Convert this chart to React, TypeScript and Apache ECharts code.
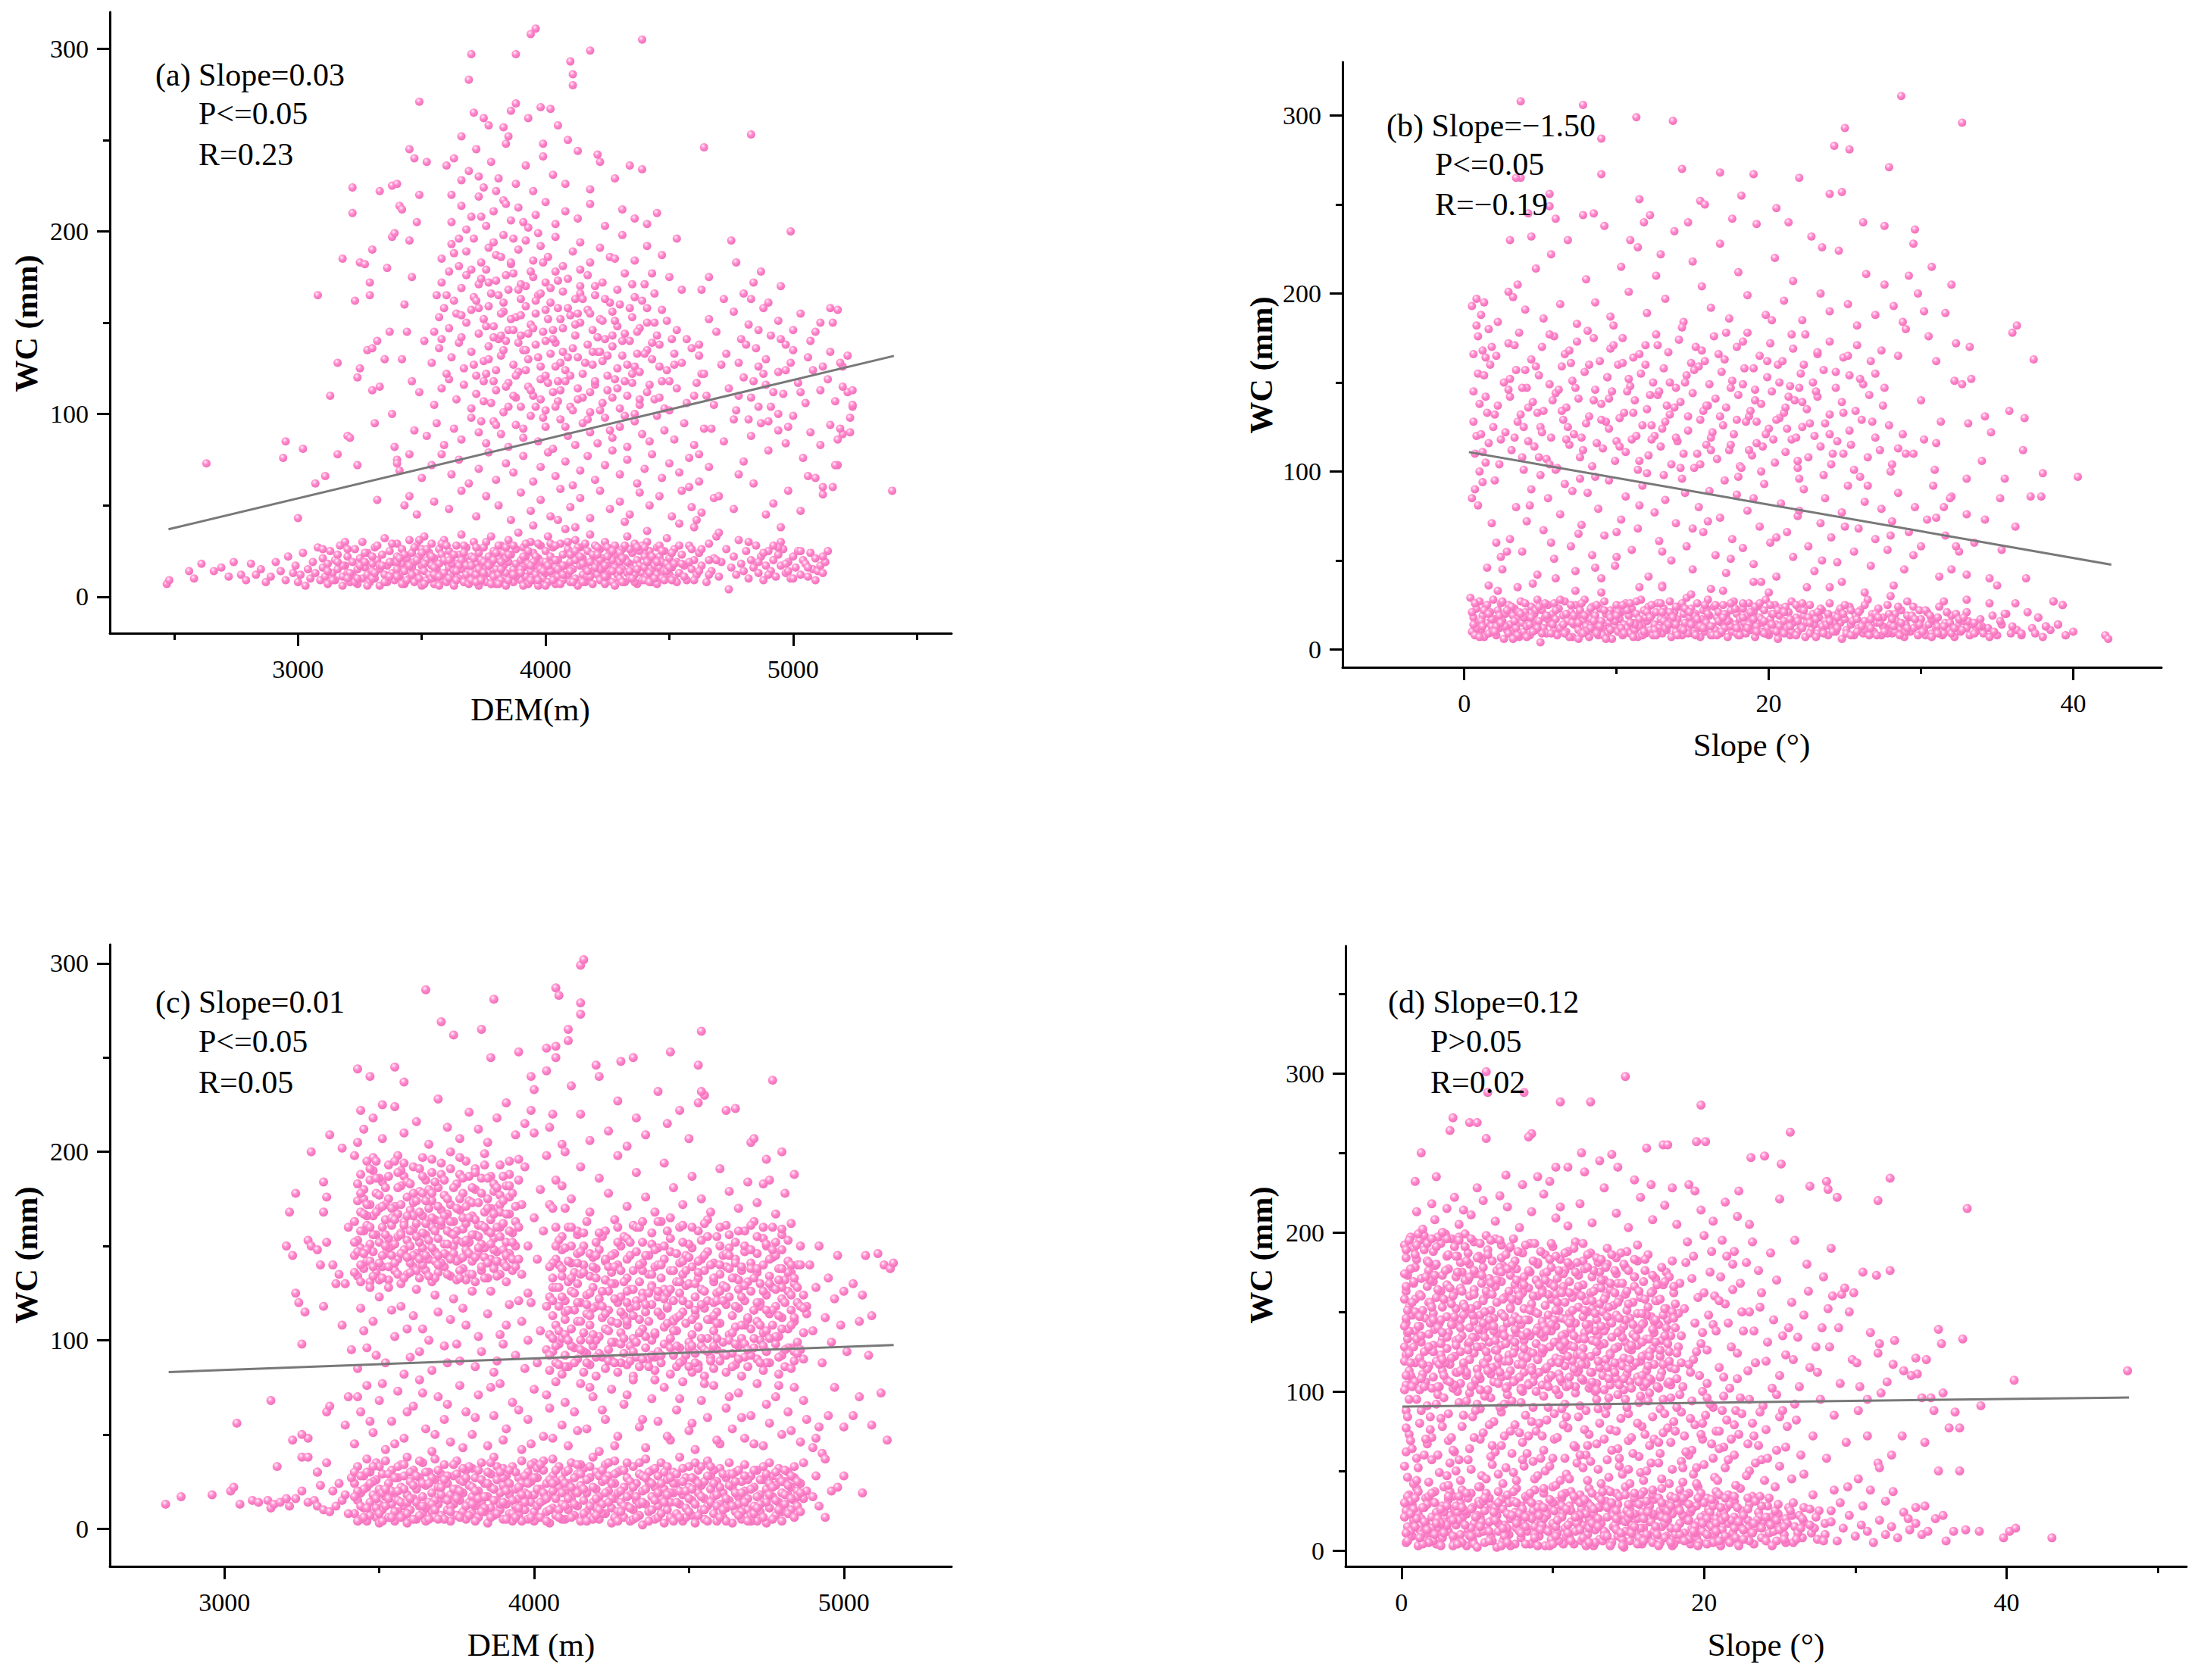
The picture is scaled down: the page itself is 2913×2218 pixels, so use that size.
import React, { useEffect, useRef } from "react";
import * as echarts from "echarts";

// ---------- Panel (a): DEM (in units of 10 m) vs WC (mm) ----------
const A_BAND = [
247,7,248,9,256,14,258,10,261,18,266,14,269,16,272,11,274,19,277,12,279,9,281,18,283,12,285,15,287,8,289,11,291,19,293,14,295,9,296,22,298,13,299,17,
300,8,301,12,302,24,303,6,304,15,305,10,306,19,307,13,308,27,309,9,310,16,310,21,
311,11,312,7,312,18,313,25,314,13,315,9,315,20,316,15,317,28,318,11,318,6,319,17,320,22,320,13,
321,8,322,19,322,12,323,26,324,15,324,7,325,21,326,10,326,30,327,16,328,12,328,24,329,8,330,18,330,14,
331,27,331,10,332,20,333,6,333,15,334,23,335,12,335,32,336,17,336,8,337,25,338,13,338,19,339,9,340,22,340,15,340,29,
341,11,342,18,342,26,343,7,343,14,344,21,345,10,345,31,346,16,346,24,347,8,347,19,348,13,348,28,349,22,349,10,350,17,350,6,350,26,
351,14,351,33,352,20,352,9,353,24,353,12,354,17,354,29,355,7,355,21,356,15,356,11,357,26,357,18,358,9,358,23,359,13,359,31,360,19,360,8,
361,16,361,25,362,11,362,21,363,6,363,14,364,28,364,18,365,10,365,23,366,15,366,34,367,8,367,20,368,12,368,27,369,17,369,7,370,22,370,13,
371,9,371,30,372,18,372,12,373,24,373,6,374,15,374,20,375,10,375,27,376,16,376,8,377,22,377,13,378,33,378,18,379,11,379,25,380,7,380,15,
381,21,381,12,382,28,382,9,383,17,383,24,384,13,384,6,385,19,385,31,386,10,386,23,387,15,387,8,388,26,388,18,389,12,389,35,390,20,390,9,
391,16,391,27,392,11,392,22,393,7,393,18,394,14,394,30,395,9,395,24,396,17,396,12,397,21,397,6,398,28,398,15,399,10,399,19,400,25,400,13,
401,8,401,33,402,18,402,22,403,12,403,27,404,16,404,7,405,20,405,11,406,29,406,14,407,9,407,23,408,17,408,37,409,12,409,26,410,19,410,8,
411,15,411,24,412,10,412,31,413,20,413,6,414,17,414,27,415,12,415,21,416,8,416,16,417,25,417,11,418,19,418,34,419,14,419,7,420,22,420,28,
421,12,421,18,422,9,422,26,423,15,423,21,424,7,424,30,425,17,425,11,426,24,426,14,427,20,427,8,428,28,428,16,429,12,429,23,430,19,430,10,
431,26,431,15,432,8,432,21,433,13,433,33,434,18,434,10,435,24,435,15,436,29,436,12,437,20,437,7,438,17,438,25,439,13,439,9,440,22,440,16,
441,30,441,11,442,19,442,25,443,14,443,8,444,21,444,17,445,12,445,27,446,16,446,22,447,10,447,19,448,25,448,14,449,18,449,32,450,12,450,21,
451,16,452,26,452,10,453,19,454,13,455,23,456,17,457,9,458,28,459,15,460,20,
461,12,462,24,463,17,465,8,466,29,467,14,468,21,469,33,470,11,
471,19,473,26,474,4,475,16,476,22,477,12,478,31,479,18,480,14,481,25,482,10,483,20,484,16,485,28,486,13,487,22,488,9,489,17,490,25,491,14,492,20,493,11,494,23,495,17,496,26,497,13,498,19,499,10,500,22,501,16,502,25,503,12,504,20,505,18,506,11,507,24,508,15,509,21,510,14,511,17,512,13,513,19,514,25,
412,38,395,39,441,36,460,38,405,42,470,35,482,30,495,30
];
const A_BAND_FILL = [
310,26,312,14,314,9,316,23,318,17,319,30,321,13,323,8,325,17,327,24,328,6,330,10,332,28,333,17,335,8,337,19,338,29,340,11,342,7,343,23,345,17,346,12,348,20,349,31,351,7,352,26,354,10,355,16,357,6,358,29,359,20,361,10,363,23,364,9,366,20,367,28,368,17,370,9,372,27,373,15,375,19,376,30,378,7,379,20,381,28,382,15,384,21,385,9,387,28,388,11,390,15,391,6,393,25,394,9,396,22,397,29,399,14,400,6,402,29,403,9,404,20,406,7,407,17,409,30,410,14,412,20,413,27,415,8,416,29,418,11,419,23,421,27,422,15,424,11,425,22,427,14,428,6,430,24,431,8,433,19,434,26,436,8,437,15,439,28,440,9,442,13,443,22,445,7,446,28,448,9,449,14,451,24,453,8,454,28,456,11,458,19,460,9,463,26,466,12,469,20,
355,12,365,17,375,13,385,23,395,19,405,15,415,18,425,27,435,10,445,19,360,28,370,17,380,24,390,13,400,19,410,23,420,16,430,14,440,27,450,16,340,19,330,22,320,10,350,24,362,18,372,8,382,19,392,29,402,14,412,25,422,20,432,28,442,8,452,18,
486,19,490,12,494,27,497,18,500,10,503,25,506,16,509,9,512,22,498,14,492,28,488,24,
316,19,320,26,324,10,327,19,331,13,334,17,337,11,341,21,344,9,347,27,351,18,354,22,357,11,361,20,364,14,367,24,371,21,374,9,377,17,381,7,384,27,387,12,391,22,394,17,397,9,401,17,404,28,407,12,411,8,414,22,417,14,421,23,424,17,427,25,431,21,434,14,437,27,441,19,444,10,447,25,451,9,455,18,459,26,462,14,466,20
];
const A_CLOUD = [
348,45,355,52,361,48,366,58,372,44,376,55,381,50,386,42,390,57,394,47,398,53,402,44,406,59,410,49,414,54,418,43,422,58,426,48,430,52,434,45,438,57,442,50,446,55,451,44,455,58,459,49,463,46,468,54,454,40,432,41,
350,65,354,72,358,78,362,67,365,75,369,62,373,70,377,79,380,64,384,73,387,68,391,77,395,63,398,71,401,79,404,66,408,74,411,61,414,69,417,77,420,64,424,72,427,80,430,67,433,75,437,62,440,70,443,78,447,65,450,73,454,68,458,76,462,63,466,71,345,78,340,75,
352,88,356,95,359,83,363,92,366,86,370,98,373,90,376,84,379,96,382,89,385,82,388,94,391,87,394,99,397,85,400,93,403,81,406,97,409,88,412,83,415,95,418,90,421,84,424,98,427,87,430,93,433,82,436,96,439,89,442,85,445,99,448,91,452,86,456,95,460,83,464,92,347,91,
355,105,358,114,361,119,364,108,367,116,370,103,372,111,375,118,378,106,380,113,383,101,385,117,388,109,390,104,393,115,395,110,398,119,400,102,403,112,405,107,408,118,410,104,413,114,415,109,418,101,420,116,423,106,425,113,428,119,430,103,433,110,435,117,438,105,441,112,444,108,447,118,450,102,453,114,457,106,461,117,465,110,349,112,346,118,
354,128,357,136,360,122,362,131,365,139,367,125,370,134,372,121,375,129,377,137,380,124,382,132,384,140,387,127,389,123,391,135,393,130,396,138,398,126,400,121,402,133,404,139,406,128,408,124,411,136,413,131,415,122,417,138,419,127,421,134,423,129,425,121,427,137,429,125,431,132,434,140,436,126,438,123,441,135,443,130,446,138,449,124,452,133,455,128,459,136,463,122,351,140,
355,145,357,153,359,158,361,147,364,155,366,142,368,150,370,157,373,144,375,152,377,159,379,148,381,141,383,156,385,146,388,153,390,143,392,159,394,149,396,155,399,145,401,152,403,141,405,158,407,147,410,154,412,143,414,150,417,157,419,146,422,152,424,141,427,156,429,148,432,144,435,153,438,147,441,158,445,143,449,151,453,146,358,141,
356,165,358,172,361,178,363,162,366,169,368,176,371,164,373,171,376,179,378,166,380,173,383,161,385,168,387,177,390,163,392,170,395,175,397,165,400,172,402,161,404,178,407,167,409,174,412,163,414,170,417,176,420,165,423,172,426,161,429,168,432,177,436,164,440,171,444,166,450,175,455,168,
358,185,362,193,365,181,368,189,371,196,374,183,377,191,380,187,383,198,386,182,389,190,392,195,395,184,398,192,401,186,404,197,407,181,411,189,414,194,418,183,422,191,426,186,431,198,436,184,441,192,447,187,453,196,
362,205,366,214,370,208,373,219,376,203,379,211,383,217,386,206,389,213,393,202,396,209,400,216,404,204,408,211,413,207,418,215,424,203,431,212,436,207,441,204,445,210,
360,236,363,240,366,228,369,233,372,245,375,224,378,238,381,229,384,248,388,226,392,236,395,222,399,241,403,231,408,226,413,244,418,223,422,238,428,229,439,234,347,240,352,238,
461,42,470,55,476,48,484,62,489,45,492,51,495,38,498,58,503,47,506,66,512,56,516,60,478,67,458,60,
462,78,467,92,472,85,476,97,480,74,483,88,487,95,490,80,494,91,497,84,500,99,504,76,507,90,511,83,515,94,520,89,518,72,523,90,
460,110,464,122,468,105,471,127,474,114,477,102,480,120,483,109,486,126,489,116,491,104,494,123,496,111,499,128,502,117,505,106,508,124,511,113,514,119,517,107,522,112,524,104,520,126,
462,138,466,152,469,145,473,133,476,156,479,141,482,149,485,136,488,158,491,143,494,151,497,138,500,146,503,155,507,140,511,150,515,134,518,157,522,132,
463,168,466,175,472,163,477,183,480,166,484,172,487,178,490,161,495,170,499,200,483,163,475,195,
295,85,294,76,302,81,307,62,311,66,300,43,308,165,313,110,316,128,316,78,318,185,322,210,322,224,320,88,321,87,323,162,325,183,324,72,325,125,324,120,328,135,327,182,329,172,330,136,331,95,330,113,330,190,329,165,332,53,333,222,332,140,333,115,335,130,336,180,337,145,338,197,339,199,338,225,340,226,341,214,342,212,338,100,339,82,340,73,341,69,343,50,345,55,263,73,343,160,345,195,342,130,344,145,346,175,348,205,349,220,
524,113,524,105,523,98,540,58,515,158,516,150,519,128,520,115,518,86,519,92,517,72,512,60,509,65
];
const A_CLOUD_FILL = [
371,127,374,96,376,148,379,118,381,165,383,135,385,104,386,152,388,121,390,171,391,92,393,144,394,113,396,162,397,131,399,98,400,157,401,117,403,146,404,104,405,173,407,134,408,93,409,158,410,121,412,149,413,108,414,166,416,128,417,97,418,155,420,118,421,142,422,102,424,163,425,132,426,91,428,151,429,114,431,140,432,99,434,158,435,122,437,145,438,108,440,133,442,116,444,150,446,126,448,103,451,141,
373,158,375,107,377,130,380,94,382,143,384,176,387,110,389,139,392,124,395,147,398,108,402,169,404,126,406,113,411,102,415,163,419,134,423,151,427,109,430,160,433,127,436,100,439,162,443,139,447,157,450,118,
360,165,363,188,366,154,368,201,370,179,372,162,374,208,377,172,379,194,382,155,384,215,386,183,389,168,391,205,394,178,397,199,399,183,362,220,365,196,373,230,380,222,387,196,
478,128,481,138,484,118,486,146,489,130,492,112,495,141,497,124,500,135,503,112,506,131,509,145,512,126,486,104,490,96,494,100,498,93,478,110,482,97,488,122,
376,122,379,142,384,115,387,146,392,135,396,104,400,140,405,118,409,131,413,155,418,112,422,134,427,143,432,118,437,133,441,150,446,109,452,127,457,141,462,132,374,174,382,186,390,154,398,166,406,152,414,179,420,170,428,185,435,171,443,177
];
const A_TOP = [
370,297,388,297,396,311,394,308,410,293,411,286,411,280,418,299,439,305,349,271,386,266,388,270,371,265,369,283,398,268,402,267,405,258,377,258,383,257,385,252,366,252,345,245,464,246,483,253,409,250,399,248,421,242,434,236,375,262,393,262
];

// ---------- Panel (b): Slope (°) vs WC (mm) ----------
const B_BAND = [
0.4,29,0.5,10,0.6,18,0.7,8,0.8,23,0.9,14,1.0,27,1.1,11,1.2,19,1.3,7,1.4,24,1.5,15,1.6,9,1.7,21,1.8,13,1.9,28,2.0,17,2.1,8,2.2,22,2.3,12,2.4,26,2.5,16,2.6,6,2.7,20,2.8,11,2.9,25,3.0,14,3.1,9,3.2,19,3.3,23,3.4,12,3.5,17,3.6,7,3.7,27,3.8,15,3.9,10,4.0,21,4.1,13,4.2,18,4.3,8,4.4,24,4.5,14,4.6,20,4.7,11,4.8,28,4.9,16,5.0,4,5.1,22,5.2,12,5.3,18,5.4,9,5.5,25,5.6,15,5.8,20,5.9,11,6.0,17,6.1,8,6.2,23,6.4,13,6.5,19,6.6,27,6.7,10,6.8,16,7.0,21,7.1,7,7.2,14,7.3,25,7.4,18,7.5,11,7.6,22,7.7,9,7.8,16,7.9,28,8.0,13,8.1,20,8.2,7,8.3,17,8.4,24,8.5,11,8.6,19,8.7,14,8.8,8,8.9,23,9.0,16,9.1,12,9.2,27,9.3,20,9.4,9,9.5,15,9.6,22,9.7,6,9.8,18,9.9,13,10.0,25,10.1,10,10.2,17,10.3,21,10.4,8,10.5,14,10.6,26,10.7,12,10.8,19,10.9,9,11.0,23,11.1,15,11.2,11,11.3,20,11.4,7,11.5,17,11.6,28,11.7,13,11.8,22,11.9,9,12.0,16,12.1,24,12.2,11,12.3,19,12.4,8,12.5,14,12.6,21,12.7,26,12.8,12,12.9,17,13.0,9,13.1,23,13.2,15,13.3,11,13.4,19,13.5,27,13.6,7,13.7,14,13.8,21,13.9,10,14.0,17,14.1,24,14.2,12,14.3,8,14.4,20,14.5,15,14.6,29,14.7,11,14.8,18,14.9,23,15.0,9,15.1,14,15.2,20,15.3,26,15.4,12,15.5,7,15.6,17,15.7,22,15.8,10,15.9,15,16.0,28,16.1,19,16.2,8,16.3,13,16.4,24,16.5,11,16.6,18,16.7,21,16.8,9,16.9,15,17.0,25,17.1,12,17.2,19,17.3,7,17.4,16,17.5,22,17.6,10,17.7,27,17.8,14,17.9,20,18.0,8,18.1,17,18.2,12,18.3,23,18.4,15,18.5,9,18.6,19,18.7,26,18.8,11,18.9,16,19.0,21,19.1,7,19.2,13,19.3,24,19.4,18,19.5,10,19.6,15,19.7,22,19.8,28,19.9,12,20.0,8,20.1,17,20.2,20,20.3,11,20.4,25,20.5,14,20.6,6,20.7,19,20.8,23,20.9,10,21.0,16,21.2,12,21.3,21,21.4,8,21.5,27,21.6,15,21.8,18,21.9,10,22.0,23,22.1,13,22.3,19,22.4,7,22.5,15,22.7,25,22.8,11,22.9,20,23.0,14,23.2,9,23.3,18,23.5,22,23.6,12,23.7,16,23.9,8,24.0,26,24.1,13,24.3,19,24.4,10,24.6,21,24.7,15,24.8,6,25.0,17,25.1,11,25.3,24,25.4,14,25.6,8,25.7,19,25.9,12,26.0,22,26.2,9,26.3,16,26.5,28,26.6,13,26.8,20,26.9,10,27.1,15,27.2,23,27.4,8,27.5,18,27.7,12,27.8,25,28.0,14,28.1,9,28.3,20,28.4,16,28.6,11,28.7,22,28.9,7,29.0,14,29.2,18,29.3,10,29.5,24,29.7,13,29.8,8,30.0,17,30.2,11,30.4,21,30.5,14,30.7,9,30.9,16,31.0,12,31.2,24,31.4,8,31.6,15,31.8,11,32.0,19,32.2,7,32.4,13,32.6,10,32.8,16,33.0,12,33.2,8,33.4,14,33.6,10,33.9,17,34.1,9,34.4,12,34.7,19,35.0,8,35.3,14,35.6,20,35.9,9,36.3,11,36.6,8,37.0,21,37.3,12,37.7,18,38.0,7,38.2,13,38.5,11,38.7,27,39.0,14,39.3,25,39.5,8,40.0,10,42.1,8,42.3,6,34.5,26,35.5,20,36.2,26,29.1,27,31.5,27,
2.2,33,4.5,37,7.3,33,11.5,35,13.0,36,16.2,34,19.0,38,22.5,35,24.8,38,26.3,32,28.2,36,33.0,28,3.5,35,9.0,32,14.9,31,20.0,32,
0.5,21,0.8,12,1.1,16,1.5,25,1.9,10,2.3,19,2.7,13,3.1,24,3.5,8,3.9,18,4.3,14,4.7,22,5.1,9,5.5,17,5.9,26,6.3,12,6.7,20,7.1,15,7.5,6,7.9,19,8.3,12,8.7,25,9.1,8,9.5,20,9.9,16,10.3,12,10.7,22,11.1,7,11.5,13,11.9,18,12.3,25,12.7,10,13.1,16,13.5,21,13.9,14,14.3,26,14.7,9,15.1,19,15.5,13,15.9,23,16.3,8,16.7,16,17.1,20,17.5,13,17.9,9,18.3,18,18.7,14,19.1,24,19.5,17,19.9,9,20.3,20,20.7,13,21.1,24,21.5,10,21.9,16,22.3,22,22.7,9,23.1,17,23.5,13,23.9,20,24.3,15,24.7,23,25.1,9,25.5,16,25.9,21,26.3,11,26.7,17,27.1,8,27.5,13,27.9,20,28.3,10,28.7,15,29.1,19,29.5,12,29.9,22,30.3,8,30.7,17,31.1,13,31.5,9,31.9,15,32.3,20,32.7,11,33.1,16,33.5,9,34.0,13,34.8,10,35.2,16,36.0,13,37.5,9
];
const B_BAND_FILL = [
0.6,14,1.0,7,1.3,22,1.8,17,2.1,13,2.5,27,2.9,9,3.3,16,3.6,21,4.1,7,4.4,18,4.8,12,5.3,26,5.7,9,6.0,22,6.5,14,6.9,7,7.2,19,7.7,26,8.0,10,8.5,16,8.9,13,9.3,6,9.6,18,10.1,21,10.5,9,10.9,26,11.2,14,11.7,8,12.0,21,12.5,11,12.9,26,13.2,12,13.7,18,14.0,8,14.5,23,14.9,14,15.2,8,15.7,12,16.0,20,16.5,25,16.9,10,17.3,16,17.8,23,18.1,8,18.6,12,19.0,17,19.4,26,19.7,9,20.2,14,20.6,22,21.0,9,21.4,17,21.8,25,22.2,12,22.6,18,23.1,7,23.4,23,23.8,14,24.2,10,24.5,18,25.0,25,25.4,8,25.8,17,26.1,13,26.6,8,27.0,20,27.3,15,27.8,9,28.2,13,28.5,24,29.0,10,29.4,19,29.9,14,30.3,22,30.7,7,31.1,18,31.5,13,32.0,9,32.5,17,33.0,21,33.8,13,34.5,7,
0.7,26,1.2,13,1.6,20,2.0,10,2.4,15,2.8,22,3.2,6,3.7,20,4.0,26,4.5,10,4.9,24,5.4,19,5.8,14,6.3,28,6.6,9,7.0,25,7.5,15,7.8,9,8.3,23,8.7,9,9.2,22,9.6,11,10.0,19,10.4,25,10.9,15,11.3,27,11.8,10,12.2,18,12.6,8,13.0,21,13.4,14,13.9,24,14.4,11,14.8,21,15.3,17,15.8,25,16.2,13,16.6,8,17.0,18,17.5,26,17.9,12,18.3,26,18.8,21,19.2,10,19.7,16,20.1,25,20.5,10,21.0,21,21.4,13,21.8,8,22.2,26,22.7,15,23.2,21,23.6,9,24.0,16,24.5,12,24.9,20,25.4,22,25.8,10,26.3,25,26.7,12,27.2,18,27.6,10,28.1,17,28.6,8,29.1,12,29.6,17,30.1,10,30.6,19,31.1,9,31.7,21,32.2,12,32.8,18,33.5,15
];
const B_CLOUD = [
0.5,85,0.7,90,0.9,81,1.2,94,0.6,145,0.8,120,1.1,121,0.5,193,0.8,197,1.3,195,1.1,188,0.9,155,1.3,154,1.0,138,0.6,128,0.7,110,1.4,105,1.2,168,0.9,176,1.5,133,1.6,180,1.8,170,1.4,142,1.7,160,1.9,125,1.6,116,2.0,95,1.8,71,2.1,60,2.4,52,1.5,46,1.6,36,
2.5,45,3.0,62,3.4,80,3.8,55,4.1,72,4.4,90,4.8,42,5.2,67,5.5,85,5.9,51,6.3,76,6.6,93,7.0,58,7.3,44,7.7,70,8.1,88,8.4,53,8.8,79,9.2,64,9.5,95,9.9,47,10.3,73,10.6,86,11.0,56,11.4,68,11.7,92,12.1,41,12.5,77,12.8,61,13.2,84,13.6,50,13.9,71,14.3,96,14.6,58,15.0,45,15.4,80,15.7,66,16.1,89,16.5,53,16.8,74,17.2,43,17.6,62,17.9,87,18.3,57,18.6,78,19.0,48,19.4,69,19.7,93,20.1,60,20.5,41,20.8,82,21.2,66,21.6,52,21.9,75,22.3,90,22.6,58,23.0,44,23.4,71,23.7,85,24.1,63,24.5,49,24.8,77,25.2,92,25.6,55,25.9,68,26.3,83,26.7,47,27.0,62,27.4,79,27.8,56,28.1,72,28.5,88,28.9,45,29.2,66,29.6,80,30.0,58,30.4,73,30.8,92,31.2,41,31.6,64,32.0,86,32.5,55,33.0,76,5.0,98,12.0,99,18.0,97,22.0,96,26.0,97,7.5,65,10.0,52,15.0,68,19.5,38,24.0,35,28.0,30,13.0,35,9.0,40,6.0,40,17.0,33,
2.3,104,3.1,112,3.9,101,4.6,114,5.4,107,6.1,102,6.9,115,7.6,108,8.4,103,9.1,113,9.9,106,10.6,111,11.4,101,12.1,109,12.9,114,13.6,104,14.4,110,15.1,102,15.9,115,16.6,107,17.4,112,18.1,103,18.9,109,19.6,114,20.4,105,21.1,111,21.9,102,22.6,108,23.4,114,24.1,104,24.9,110,25.6,101,26.5,108,27.3,112,28.1,104,29.0,110,
2.7,122,3.5,128,4.2,117,5.0,125,5.7,119,6.5,129,7.2,121,8.0,127,8.7,116,9.5,124,10.2,130,11.0,118,11.7,126,12.5,120,13.2,128,14.0,117,14.7,123,15.5,129,16.2,119,17.0,126,17.7,121,18.5,128,19.2,116,20.0,124,20.7,130,21.5,118,22.2,125,23.0,120,23.7,127,24.5,117,25.3,123,26.1,129,27.0,119,27.9,126,28.8,121,30.2,118,31.0,116,
2.2,137,3.0,142,3.7,132,4.5,139,5.2,134,6.0,144,6.7,136,7.5,141,8.2,131,9.0,138,9.7,145,10.5,133,11.2,140,12.0,135,12.7,143,13.5,132,14.2,139,15.0,144,15.7,134,16.5,141,17.2,136,18.0,143,18.7,131,19.5,138,20.2,145,21.0,133,21.7,140,22.5,135,23.2,142,24.0,132,24.8,139,25.7,134,26.6,143,27.5,137,
2.6,150,3.4,157,4.1,147,4.9,154,5.6,149,6.4,159,7.1,151,7.9,156,8.6,146,9.4,153,10.1,160,10.9,148,11.6,155,12.4,150,13.1,158,13.9,147,14.6,154,15.4,159,16.1,149,16.9,156,17.6,151,18.4,158,19.1,146,19.9,153,20.6,160,21.4,148,22.1,155,22.9,150,23.6,157,24.4,147,25.3,154,26.2,149,
2.1,165,2.9,172,3.6,178,4.4,163,5.1,170,5.9,176,6.6,166,7.4,173,8.1,179,8.9,162,9.6,169,10.4,175,11.1,164,11.9,171,12.6,177,13.4,167,14.1,174,14.9,161,15.6,168,16.4,176,17.1,163,17.9,170,18.6,178,19.4,165,20.1,172,20.9,162,21.6,169,22.4,177,23.2,166,24.0,173,24.9,164,25.8,171,26.7,162,27.4,168,
3.3,119,4.8,133,6.2,146,7.8,112,9.3,128,10.8,152,12.3,118,13.8,136,15.3,110,16.8,131,18.3,149,19.8,121,21.3,142,4.0,157,5.6,104,7.0,161,8.5,140,10.0,117,11.5,166,13.0,124,14.5,150,16.0,137,17.5,115,19.0,158,20.5,129,22.0,147,3.8,147,6.8,125,9.8,171,12.8,145,15.8,162,18.8,134,21.8,119,
2.2,184,3.2,198,3.5,205,4.0,191,4.7,214,5.2,186,5.7,222,6.3,194,6.8,230,7.4,183,8.0,208,8.6,195,9.2,238,9.6,187,10.3,215,10.8,201,11.4,226,12.0,189,12.6,210,13.2,197,13.8,235,14.4,184,15.0,218,15.6,204,16.2,192,16.8,228,17.4,186,18.0,212,18.6,199,19.2,239,19.8,188,20.4,220,21.0,196,21.6,207,22.2,185,22.8,232,23.4,200,24.0,190,24.6,224,25.2,194,25.8,182,26.4,211,27.0,188,27.6,205,28.2,193,28.8,184,3.0,230,2.9,201,4.4,232,6.0,242,8.5,245,11.8,240,14.7,240,17.6,242,21.3,240,23.5,226,26.2,240,27.6,238,29.6,236,10.9,230,12.9,222
];
const B_CLOUD_FILL = [
2.4,118,2.9,146,3.3,171,3.8,108,4.2,136,4.7,159,5.1,122,5.6,177,6.0,101,6.4,134,6.9,168,7.3,147,7.7,119,8.2,160,8.6,97,9.0,129,9.4,153,9.8,182,10.2,114,10.7,145,11.1,133,11.5,106,11.9,160,12.3,126,12.7,171,13.1,98,13.5,150,13.9,119,14.3,181,14.7,131,15.1,157,15.5,104,15.9,137,16.3,122,16.7,166,17.1,95,17.5,147,17.9,129,18.3,173,18.7,112,19.1,140,19.5,100,19.9,162,20.3,118,20.7,150,21.1,136,21.5,177,21.9,106,22.3,160,22.7,127,23.1,145,23.6,98,24.0,121,24.4,156,24.9,133,25.4,115,26.0,152,26.8,128,27.6,147,28.5,113,
3.0,152,3.9,125,4.9,108,5.8,140,6.7,118,7.6,96,8.5,175,9.5,141,10.4,161,11.3,120,12.2,143,13.3,137,14.2,102,15.2,170,16.2,112,17.2,178,18.2,102,19.2,128,20.2,185,21.2,124,22.2,139,23.2,167,24.2,110,25.2,165,2.0,132,1.4,164,1.2,111,1.0,100,0.8,182,0.6,166,
2.8,55,4.3,81,5.7,60,7.1,89,8.6,46,10.0,66,11.5,81,13.0,55,14.5,88,16.0,72,17.5,51,19.0,85,20.5,63,22.0,78,23.5,50,25.0,69,26.5,92,28.0,64,29.5,53,31.0,74
];
const B_SIDE = [
3.7,308,7.8,306,11.3,299,13.7,297,9.0,287,28.7,311,32.7,296,25.0,293,25.3,281,24.3,283,3.7,265,3.4,265,9.0,267,14.3,270,16.8,268,19.0,267,22.0,265,24.0,256,24.8,257,27.9,271,5.6,256,5.6,249,15.5,252,15.8,250,11.5,253,4.2,245,18.2,255,20.5,248,12.2,244,7.8,244,
36.0,178,36.3,182,37.4,163,35.8,134,36.8,130,36.7,112,38.0,99,40.3,97,37.2,86,37.9,86,35.2,85,33.0,96,34.0,106,34.6,122,33.1,127,34.2,131,35.5,96,36.2,69,35.3,56,34.2,73,33.5,60,32.3,58,31.5,80,31.9,85,30.9,101,31.3,128,32.2,151,32.7,149,33.3,152,31.0,162,31.6,189,32.3,172,33.2,170,30.5,176,29.8,200,32.0,205,30.7,215,29.5,228,29.2,210,30.2,190,38.7,27,39.3,25,39.0,14,38.2,13,37.7,18,36.6,9,39.5,8,34.5,40,35.0,36,33.0,42,32.0,45,36.9,40,29.5,110,30.0,140,28.5,165,29.0,180,27.0,155,28.0,100
];

// ---------- Panel (c): DEM (in units of 10 m) vs WC (mm) ----------
const C_BAND = [
342,8,342,24,343,15,343,33,344,5,344,19,345,28,345,11,346,37,346,4,346,22,347,14,347,30,348,8,348,18,349,26,349,6,349,35,350,13,350,21,350,3,351,29,
351,10,352,17,352,36,353,6,353,24,354,13,354,31,355,4,355,19,356,27,356,9,356,15,357,34,357,22,358,7,358,12,358,28,359,18,359,3,359,38,360,25,360,10,
361,16,361,31,362,5,362,21,363,12,363,27,364,8,364,35,364,17,365,23,365,4,366,14,366,30,367,9,367,19,368,26,368,6,368,37,369,13,369,22,370,29,370,7,
371,16,371,34,372,10,372,24,373,4,373,18,374,28,374,13,375,7,375,21,375,36,376,15,376,26,377,9,377,19,378,31,378,5,379,14,379,23,380,8,380,32,380,17,
381,12,381,27,382,6,382,20,383,35,383,14,384,9,384,24,385,3,385,17,386,29,386,11,386,22,387,7,387,38,388,15,388,26,389,10,389,19,390,32,390,5,390,23,
391,13,391,28,392,8,392,18,393,33,393,4,394,21,394,12,395,27,395,7,395,16,396,36,396,24,397,10,397,19,398,30,398,5,399,14,399,25,400,9,400,35,400,18,
401,12,401,27,402,6,402,21,403,15,403,31,404,9,404,24,405,3,405,18,406,28,406,11,406,37,407,16,407,7,408,22,408,33,409,13,409,26,410,5,410,19,410,30,
411,10,411,24,412,16,412,35,413,7,413,20,414,29,414,12,415,4,415,23,416,15,416,32,417,9,417,19,418,27,418,6,419,14,419,38,420,21,420,11,420,30,
421,17,421,5,422,25,422,13,423,34,423,8,424,20,424,28,425,11,425,3,426,16,426,24,426,36,427,9,427,19,428,31,428,14,429,6,429,22,430,27,430,12,
431,4,431,18,432,33,432,10,433,24,433,15,434,7,434,29,435,20,435,2,436,13,436,37,437,25,437,9,438,17,438,31,439,5,439,22,440,12,440,28,
441,16,441,35,442,3,442,21,443,10,443,26,444,14,444,6,445,30,445,19,446,8,446,24,447,13,447,38,448,4,448,18,449,27,449,11,450,22,450,33,
451,7,451,15,452,26,452,3,453,19,453,31,454,10,454,23,455,5,455,16,456,36,456,12,457,21,457,28,458,8,458,17,459,4,459,25,460,13,460,32,
461,19,461,6,462,27,462,11,463,15,463,35,464,3,464,22,465,9,465,30,466,17,466,13,467,25,467,5,468,20,468,34,469,10,469,16,470,28,470,7,
471,22,471,12,472,4,472,31,473,18,473,9,474,26,474,14,475,3,475,21,476,35,476,11,477,17,477,28,478,7,478,23,479,14,479,32,480,19,480,9,
481,25,481,13,482,18,482,30,483,10,483,22,484,15,484,27,485,12,485,20,486,24,487,16,
488,20,490,17,492,12,494,6,496,20,498,22,500,28,506,19,487,35,491,28,493,40,
281,13,286,17,296,18,302,20,303,22,305,13,309,15,311,14,314,15,315,11,316,13,318,14,321,12,320,16,323,16,325,20,327,14,329,15,330,12,332,10,334,9,336,12,338,15,340,8,335,20,331,23,337,24,339,18,341,27,330,30,333,35,327,48,325,38,322,47,317,33
];
const C_BAND_FILL = [
342,30,343,4,344,12,345,21,346,30,347,7,348,25,349,16,350,33,351,4,352,12,353,29,354,20,355,9,356,33,357,14,358,21,359,8,360,30,361,5,362,14,363,36,364,24,365,11,366,5,367,27,368,15,369,31,370,18,371,5,372,28,373,12,374,21,375,29,376,6,377,25,378,12,379,33,380,22,381,4,382,16,383,26,384,11,385,30,386,6,387,21,388,33,389,13,390,27,391,5,392,24,393,15,394,30,395,11,396,4,397,28,398,18,399,34,400,4,401,21,402,14,403,36,404,4,405,26,406,20,407,31,408,10,409,5,410,24,411,31,412,6,413,27,414,19,415,34,416,8,417,26,418,12,419,5,420,16,421,28,422,8,423,19,424,35,425,24,426,6,427,30,428,20,429,12,430,35,431,25,432,5,433,17,434,13,435,28,436,21,437,4,438,10,439,32,440,6,441,24,442,14,443,33,444,19,445,4,446,29,447,20,448,32,449,6,450,16,451,27,452,13,453,7,454,33,455,25,456,4,457,14,458,31,459,12,460,22,461,29,462,4,463,23,464,12,465,19,466,31,467,9,468,14,469,26,470,4,471,31,472,17,473,26,474,6,475,14,476,24,477,5,478,15,479,27,480,4,481,18,482,8,483,28,484,6,485,17,486,9,
343,20,345,6,347,24,349,11,351,19,353,16,355,27,357,6,359,14,361,23,363,7,365,30,367,13,369,5,371,26,373,9,375,16,377,32,379,7,381,20,383,9,385,24,387,15,389,30,391,20,393,8,395,22,397,14,399,6,401,32,403,19,405,10,407,25,409,19,411,16,413,13,415,29,417,4,419,22,421,10,423,26,425,16,427,4,429,31,431,11,433,6,435,14,437,30,439,15,441,8,443,18,445,24,447,6,449,20,451,21,453,24,455,10,457,33,459,18,461,10,463,29,465,25,467,19,469,4,471,8,473,13,475,29,477,22,479,10,481,31,483,16,485,25,
342,17,344,28,346,11,348,33,350,8,352,21,354,6,356,20,358,34,360,16,362,28,364,12,366,24,368,10,370,22,372,15,374,34,376,20,378,27,380,13,382,31,384,17,386,35,388,8,390,14,392,31,394,6,396,18,398,24,400,27,402,34,404,16,406,24,408,6,410,12,412,22,414,34,416,21,418,33,420,7,422,31,424,14,426,29,428,9,430,17,432,22,434,35,436,27,438,24,440,19,442,30,444,27,446,14,448,25,450,9,452,35,454,17,456,28,458,24,460,6,462,16,464,29,466,7,468,28,470,21,472,11,474,33,476,18,478,30,480,25,482,23,484,33,486,19
];
const C_WEST = [
343,134,345,138,347,131,349,136,351,139,353,132,355,137,357,130,359,135,361,139,363,133,365,137,367,131,369,136,371,139,373,134,375,132,377,138,379,135,381,131,383,137,385,133,387,139,389,135,391,131,393,137,
342,145,344,149,346,142,348,147,350,141,352,146,354,150,356,143,358,148,360,141,362,146,364,149,366,143,368,147,370,141,372,145,374,150,376,143,378,148,380,142,382,146,384,149,386,143,388,147,390,141,392,146,394,150,
343,153,345,158,347,151,349,156,351,160,353,154,355,151,357,157,359,153,361,159,363,152,365,156,367,160,369,154,371,151,373,157,375,153,377,159,379,152,381,156,383,151,385,158,387,154,389,160,391,152,393,157,
342,163,344,168,346,161,348,166,350,170,352,164,354,161,356,167,358,163,360,169,362,162,364,166,366,170,368,164,370,161,372,167,374,163,376,169,378,162,380,166,382,161,384,168,386,164,388,170,390,162,392,167,
343,174,345,180,347,172,349,178,351,184,353,175,355,171,357,182,359,176,361,173,363,179,365,185,367,174,369,181,371,177,373,172,375,183,377,178,379,174,381,180,383,186,385,175,387,179,389,172,391,182,
344,188,346,195,348,190,350,186,353,193,356,198,358,187,361,192,364,197,367,189,370,194,373,200,376,188,378,195,381,191,384,199,386,187,389,193,392,188,395,196,
343,205,345,212,348,218,351,207,355,224,358,210,362,216,366,204,369,228,372,213,376,207,379,221,382,212,385,205,388,218,391,226,394,209,397,215,399,222,344,222,342,198,
344,140,348,156,352,172,356,135,360,150,364,178,368,142,372,158,376,137,380,173,384,144,388,160,392,176,346,166,350,132,354,145,358,161,362,137,366,153,370,169,374,146,378,132,382,155,386,170,390,148,394,163,347,185,357,146,367,165,377,152,387,138,
343,85,346,96,348,110,350,123,352,88,355,102,357,118,360,91,362,127,364,106,367,84,369,115,371,97,374,122,376,89,378,108,380,126,383,94,385,114,387,83,389,103,392,119,394,92,396,110,398,125,344,117,358,82,366,100,373,111,381,86,390,98,353,128,397,85,
342,45,344,62,346,76,348,51,350,68,352,42,354,57,356,73,358,48,361,65,363,79,365,53,367,41,369,70,371,58,373,46,376,76,378,62,380,50,382,71,385,44,387,60,389,77,391,53,393,67,396,42,398,58,400,74,403,49,405,64,407,78,409,55,
396,135,398,150,400,165,402,180,397,192,401,143,403,158,405,172,399,120,402,105,404,95,406,128,408,140,409,155,407,185,404,198,400,210,406,220,410,170,396,172,398,100,401,88,
320,150,322,145,323,125,324,120,326,115,327,153,328,150,330,148,331,140,333,152,335,140,336,130,337,135,338,108,339,130,332,118,325,98,315,68,304,56,325,50,327,38,330,30,333,62,334,65,333,176,332,168,321,168,323,178,328,200,332,184,334,209,338,202,340,160,341,95,340,70,339,55
];
const C_WEST_FILL = [
342,136,344,158,345,175,346,148,347,191,348,134,349,168,350,152,351,145,352,181,353,139,354,165,355,195,356,155,357,172,358,133,359,184,360,158,361,145,362,174,363,191,364,140,365,162,366,180,367,149,368,133,369,171,370,188,371,146,372,135,373,163,374,181,375,158,376,197,377,144,378,171,379,187,380,135,381,164,382,149,383,178,384,193,385,141,386,157,387,183,388,134,389,168,390,187,391,145,392,158,393,178,394,139,395,185,
343,147,345,167,347,142,349,186,351,171,353,149,355,164,357,190,359,144,361,166,363,143,365,174,367,196,369,145,371,166,373,191,375,142,377,165,379,146,381,189,383,161,385,170,387,148,389,177,391,167,393,143,395,160,344,178,348,197,352,156,356,189,360,183,364,157,368,184,372,151,376,175,380,156,384,133,388,181,392,195,
345,105,349,92,354,116,359,106,363,94,368,124,372,88,377,117,382,102,386,126,391,108,395,121,347,128,361,113,375,98,388,89,
343,70,347,57,351,77,355,45,359,62,364,72,368,50,372,66,377,43,381,59,386,75,390,47,395,63,399,45,404,71,
342,152,343,183,344,131,345,146,346,172,347,160,348,139,349,195,350,177,351,133,352,150,353,187,354,170,355,141,356,181,357,156,358,194,359,166,360,136,361,178,362,155,363,168,364,187,365,145,366,134,367,178,368,158,369,140,370,163,371,185,372,175,373,143,374,156,375,170,376,133,377,186,378,153,379,165,380,181,381,144,382,173,383,139,384,160,385,186,386,151,387,167,388,142,389,155,390,174,391,139,392,182,393,152,394,171,395,143
];
const C_EAST = [
405,84,407,88,409,82,411,86,414,90,416,83,418,87,420,81,423,85,425,89,427,83,430,87,432,81,434,86,437,90,439,84,441,88,444,82,446,86,448,89,451,83,453,87,455,81,458,85,460,89,462,83,465,87,467,81,469,86,472,90,474,84,476,88,479,82,481,86,484,89,
406,94,408,98,410,92,413,96,415,100,417,93,419,97,422,91,424,95,426,99,429,93,431,97,433,91,436,96,438,100,440,94,443,98,445,92,447,96,450,99,452,93,454,97,457,91,459,95,461,99,464,93,466,97,468,91,471,96,473,100,475,94,478,98,480,92,483,96,485,99,
405,103,407,108,409,101,412,106,414,110,416,104,418,108,421,102,423,106,425,110,428,104,430,108,432,101,435,106,437,110,439,103,442,107,444,101,446,105,449,109,451,103,453,107,456,101,458,105,460,109,463,103,465,107,467,101,470,106,472,110,474,104,477,108,479,102,482,106,484,110,487,104,
406,113,408,118,410,111,413,116,415,120,417,114,420,118,422,112,424,116,427,120,429,113,431,117,434,111,436,115,438,119,441,113,443,117,445,111,448,115,450,119,452,113,455,117,457,111,459,115,462,119,464,113,466,117,469,111,471,116,473,120,476,114,478,118,480,112,483,116,485,120,488,114,
405,123,407,128,410,121,412,126,414,130,417,124,419,128,421,122,424,126,426,130,428,123,431,127,433,121,435,125,438,129,440,123,442,127,445,121,447,125,449,129,452,123,454,127,456,121,459,125,461,129,463,123,466,127,468,121,470,126,473,130,475,124,477,128,480,122,482,126,484,130,487,124,
406,133,409,138,411,131,413,136,416,140,418,134,420,138,423,132,425,136,427,140,430,133,432,137,434,131,437,135,439,139,441,133,444,137,446,131,448,135,451,139,453,133,455,137,458,131,460,135,462,139,465,133,467,137,469,131,472,136,474,140,476,134,479,138,481,132,483,136,
407,143,409,148,412,141,414,146,416,150,419,144,421,148,423,142,426,146,428,150,430,143,433,147,435,141,437,145,440,149,442,143,444,147,447,141,449,145,451,149,454,143,456,147,458,141,461,145,463,149,465,143,468,147,470,141,472,146,475,150,477,144,480,148,482,142,
408,153,411,160,414,156,417,163,420,152,423,158,426,164,429,155,432,161,435,152,438,157,441,163,444,154,447,160,450,151,453,158,456,164,459,155,462,161,465,152,468,158,471,163,474,154,477,160,480,156,483,162,
406,170,409,182,412,175,415,192,418,168,421,186,424,178,427,198,430,171,433,189,436,176,439,168,442,194,445,181,448,172,451,187,454,175,457,168,460,191,463,179,466,170,469,184,472,173,475,196,478,167,481,178,484,188,470,205,471,207,474,183,476,185,480,200,
405,213,409,204,412,235,415,220,418,206,421,240,424,211,427,227,430,203,433,218,436,209,440,232,443,215,447,222,450,207,453,226,455,230,462,222,465,223,410,200,
410,115,415,135,420,100,425,145,430,120,435,90,440,140,445,110,450,130,455,95,460,150,465,118,470,138,475,105,480,128,485,140,412,150,418,125,428,98,438,128,448,152,458,120,468,98,478,145,483,85,433,160,453,85,463,138,473,118,443,125,
411,44,413,62,415,77,417,53,419,70,421,41,423,58,425,74,427,49,429,66,432,79,434,54,436,43,438,69,440,57,442,75,444,47,446,63,448,78,450,52,452,42,454,68,456,59,458,76,460,45,462,64,464,53,466,72,468,48,470,60,472,77,474,44,476,56,478,70,480,50,482,62,484,75,486,46,488,58,490,43,492,54,494,37,
486,95,488,118,489,140,490,105,491,128,492,150,493,88,494,112,495,133,496,99,497,122,498,145,499,108,500,126,501,94,503,130,505,110,506,124,507,145,509,113,511,146,513,140,515,138,516,141,508,92,505,70,503,60,509,55,514,47,512,72,497,75,500,54,495,60
];
const C_EAST_FILL = [
405,92,406,121,407,150,408,105,409,134,410,86,411,142,412,97,413,125,414,158,415,110,416,136,417,88,418,146,419,117,420,133,421,93,422,155,423,114,424,139,425,99,426,122,427,152,428,88,429,131,430,110,431,145,432,94,433,118,434,160,435,137,436,102,437,125,438,151,439,91,440,115,441,140,442,98,443,158,444,127,445,105,446,146,447,88,448,121,449,137,450,96,451,160,452,116,453,142,454,101,455,126,456,155,457,89,458,133,459,109,460,140,461,93,462,128,463,156,464,104,465,141,466,90,467,123,468,150,469,112,470,92,471,133,472,155,473,108,474,126,475,88,476,143,477,116,478,102,479,132,480,159,481,120,482,96,483,140,484,112,485,128,486,150,487,90,
406,141,408,128,410,103,412,160,414,120,416,94,418,113,420,145,422,126,424,89,426,139,428,115,430,154,432,127,434,104,436,145,438,92,440,163,442,122,444,96,446,112,448,142,450,86,452,130,454,153,456,111,458,97,460,126,462,146,464,86,466,132,468,108,470,161,472,120,474,97,476,130,478,152,480,106,482,136,484,94,486,118,407,97,411,116,415,147,419,103,423,132,427,109,431,89,435,122,439,148,443,109,447,131,451,97,455,145,459,121,463,100,467,139,471,116,475,151,479,91,483,124,
406,48,410,67,414,52,418,75,422,63,426,44,430,71,435,58,439,79,443,49,447,69,451,56,455,77,459,47,463,70,467,59,471,45,475,66,479,76,483,52,487,68,491,48,
404,118,405,139,406,101,407,160,408,87,409,123,410,149,411,100,412,133,413,88,414,141,415,95,416,157,417,119,418,100,419,139,420,91,421,157,422,118,423,143,424,105,425,130,426,88,427,160,428,137,429,101,430,126,431,152,432,113,433,99,434,140,435,163,436,119,437,86,438,135,439,104,440,126,441,92,442,150,443,118,444,165,445,137,446,97,447,113,448,161,449,92,450,144,451,111,452,88,453,136,454,119,455,162,456,94,457,140,458,113,459,101,460,160,461,121,462,92,463,145,464,133,465,98,466,158,467,108,468,129,469,95,470,148,471,101,472,138,473,88,474,160,475,116,476,101,477,148,478,127,479,113,480,138,481,95,482,153,483,108,484,133,485,93,486,140,487,117
];
const C_TOP = [
365,286,370,269,374,262,387,281,383,265,407,287,408,283,415,279,415,273,415,299,416,302,411,259,411,265,404,255,407,256,407,250,454,264,453,246,454,232,444,253,432,250,428,248,420,246,395,253,386,250,477,238,355,245,358,237,343,244,347,240,351,225,399,240,404,243,400,233
];

// ---------- Panel (d): Slope (°) vs WC (mm) ----------
const D_BLOCK = [
0.3,104,0.7,108,1.2,101,1.6,106,2.1,109,2.5,103,3.0,107,3.4,102,3.9,105,4.3,110,4.8,104,5.2,108,5.7,101,6.1,106,6.6,109,7.0,103,7.5,107,7.9,102,8.4,105,8.8,110,9.3,104,9.7,108,10.2,101,10.6,106,11.1,109,11.5,103,12.0,107,12.4,102,12.9,105,13.3,110,13.8,104,14.2,108,14.7,101,15.1,106,15.6,109,16.0,103,16.5,107,17.0,102,17.6,105,18.2,108,
0.5,113,0.9,118,1.4,111,1.8,116,2.3,119,2.7,113,3.2,117,3.6,112,4.1,115,4.5,120,5.0,114,5.4,118,5.9,111,6.3,116,6.8,119,7.2,113,7.7,117,8.1,112,8.6,115,9.0,120,9.5,114,9.9,118,10.4,111,10.8,116,11.3,119,11.7,113,12.2,117,12.6,112,13.1,115,13.5,120,14.0,114,14.4,118,14.9,111,15.3,116,15.8,119,16.2,113,16.7,117,17.2,112,17.8,115,18.5,118,
0.3,123,0.8,128,1.2,121,1.7,126,2.1,129,2.6,123,3.0,127,3.5,122,3.9,125,4.4,130,4.8,124,5.3,128,5.7,121,6.2,126,6.6,129,7.1,123,7.5,127,8.0,122,8.4,125,8.9,130,9.3,124,9.8,128,10.2,121,10.7,126,11.1,129,11.6,123,12.0,127,12.5,122,12.9,125,13.4,130,13.8,124,14.3,128,14.7,121,15.2,126,15.6,129,16.1,123,16.6,127,17.1,122,17.7,125,18.3,128,
0.4,133,0.9,138,1.3,131,1.8,136,2.2,139,2.7,133,3.1,137,3.6,132,4.0,135,4.5,140,4.9,134,5.4,138,5.8,131,6.3,136,6.7,139,7.2,133,7.6,137,8.1,132,8.5,135,9.0,140,9.4,134,9.9,138,10.3,131,10.8,136,11.2,139,11.7,133,12.1,137,12.6,132,13.0,135,13.5,140,13.9,134,14.4,138,14.8,131,15.3,136,15.7,139,16.2,133,16.7,137,17.2,132,17.8,135,
0.3,143,0.7,148,1.2,141,1.6,146,2.1,149,2.5,143,3.0,147,3.4,142,3.9,145,4.3,150,4.8,144,5.2,148,5.7,141,6.1,146,6.6,149,7.0,143,7.5,147,7.9,142,8.4,145,8.8,150,9.3,144,9.7,148,10.2,141,10.6,146,11.1,149,11.5,143,12.0,147,12.4,142,12.9,145,13.3,150,13.8,144,14.2,148,14.7,141,15.1,146,15.6,149,16.0,143,16.5,147,17.0,142,17.6,145,18.3,149,
0.5,153,0.9,158,1.4,151,1.8,156,2.3,159,2.7,153,3.2,157,3.6,152,4.1,155,4.5,160,5.0,154,5.4,158,5.9,151,6.3,156,6.8,159,7.2,153,7.7,157,8.1,152,8.6,155,9.0,160,9.5,154,9.9,158,10.4,151,10.8,156,11.3,159,11.7,153,12.2,157,12.6,152,13.1,155,13.5,160,14.0,154,14.4,158,14.9,151,15.3,156,15.8,159,16.3,153,16.9,157,17.5,152,18.1,155,
0.3,163,0.8,168,1.2,161,1.7,166,2.1,169,2.6,163,3.0,167,3.5,162,3.9,165,4.4,170,4.8,164,5.3,168,5.7,161,6.2,166,6.6,169,7.1,163,7.5,167,8.0,162,8.4,165,8.9,170,9.3,164,9.8,168,10.2,161,10.7,166,11.1,169,11.6,163,12.0,167,12.5,162,12.9,165,13.4,170,13.8,164,14.3,168,14.8,161,15.4,166,16.0,169,16.6,163,17.3,167,18.0,162,
0.4,173,0.9,178,1.3,171,1.8,176,2.2,179,2.7,173,3.1,177,3.6,172,4.0,175,4.5,180,4.9,174,5.4,178,5.8,171,6.3,176,6.7,179,7.2,173,7.6,177,8.1,172,8.5,175,9.0,180,9.4,174,9.9,178,10.3,171,10.8,176,11.2,179,11.7,173,12.1,177,12.6,172,13.1,175,13.6,180,14.2,174,14.8,178,15.4,172,16.1,176,16.8,171,17.5,175,
0.3,184,0.8,190,1.2,195,1.7,182,2.1,188,2.6,193,3.0,185,3.5,191,3.9,181,4.4,187,4.8,194,5.3,183,5.7,189,6.2,196,6.6,184,7.1,190,7.5,182,8.0,187,8.5,193,9.0,181,9.5,186,10.0,191,10.5,183,11.0,188,11.5,194,12.0,182,12.5,187,13.0,181,13.6,190,14.2,184,14.9,188,15.6,182,16.3,186,0.2,192,0.6,197,1.5,198,2.4,197,3.3,196,4.2,199,
0.6,110,1.5,125,2.4,140,3.3,155,4.2,170,5.1,185,6.0,115,6.9,130,7.8,145,8.7,160,9.6,175,10.5,120,11.4,135,12.3,150,13.2,165,14.1,112,15.0,127,15.9,142,16.8,157,17.7,172,0.9,150,1.9,170,2.9,118,3.8,133,4.7,148,5.6,163,6.5,178,7.4,106,8.3,121,9.2,136,10.1,166,11.0,181,11.9,108,12.8,138,13.7,153,14.6,168,15.5,118,16.4,133,17.3,148,0.4,137,2.0,102,3.7,185,5.5,134,7.3,158,9.1,112,10.9,145,12.7,176,14.5,138,16.3,116,18.1,140,
18.6,103,19.1,112,19.5,125,19.9,137,20.3,148,20.7,160,21.1,172,21.5,185,18.9,194,19.3,120,19.8,130,20.2,105,20.6,142,21.0,115,21.4,155,21.8,128,22.2,108,22.6,138,23.0,150,23.4,118,23.8,162,24.2,131,24.6,145,25.0,110,25.4,123,25.8,156,22.4,168,23.6,176,24.8,170,26.2,134,26.6,148,27.0,115,27.4,128,18.4,168,18.8,181,19.6,159,20.4,175,21.2,195,22.0,188,22.8,181,20.0,198,21.7,102,26.3,103,25.6,140,27.8,140,28.2,152,26.9,163,24.4,187,23.2,194
];
const D_BLOCK_FILL = [
0.2,119,0.4,151,0.6,177,0.9,106,1.0,133,1.3,160,1.5,189,1.7,114,1.9,143,2.2,173,2.4,103,2.6,130,2.8,158,3.1,186,3.3,121,3.5,147,3.7,112,4.0,163,4.2,191,4.4,126,4.6,152,4.9,107,5.1,139,5.3,173,5.5,117,5.8,145,6.0,182,6.2,132,6.4,105,6.7,158,6.9,186,7.1,119,7.3,144,7.6,170,7.8,109,8.0,135,8.2,192,8.5,151,8.7,124,8.9,100,9.1,167,9.4,141,9.6,115,9.8,183,10.1,131,10.3,156,10.5,108,10.7,174,11.0,122,11.2,145,11.4,190,11.6,112,11.9,160,12.1,133,12.3,178,12.5,104,12.8,149,13.0,119,13.2,170,13.4,138,13.7,108,13.9,186,14.1,127,14.3,156,14.6,116,14.8,145,15.0,176,15.2,102,15.5,134,15.7,163,15.9,122,16.2,148,16.4,108,16.6,173,16.8,131,17.1,158,17.3,117,17.5,140,17.8,104,18.0,166,18.2,124,
0.3,166,0.5,138,0.7,103,1.0,183,1.2,147,1.4,117,1.7,193,1.9,156,2.1,125,2.3,180,2.6,145,2.8,110,3.0,134,3.2,165,3.5,104,3.7,175,3.9,140,4.1,118,4.3,182,4.6,103,4.8,161,5.0,128,5.2,193,5.5,150,5.7,113,5.9,168,6.1,138,6.4,121,6.6,192,6.8,147,7.0,110,7.3,179,7.5,131,7.7,163,8.0,117,8.2,145,8.4,176,8.7,106,8.9,138,9.2,188,9.4,126,9.7,161,9.9,110,10.1,145,10.4,176,10.6,135,10.9,103,11.1,162,11.4,128,11.6,181,11.9,117,12.1,151,12.4,139,12.6,106,12.9,184,13.1,129,13.4,158,13.6,115,13.9,143,14.1,176,14.4,104,14.6,134,14.9,163,15.1,120,15.4,183,15.6,139,15.9,110,16.1,158,16.4,125,16.7,144,16.9,103,17.2,178,17.4,135,17.7,119,17.9,150,
0.2,141,0.2,128,0.3,110,0.2,174,0.3,189,0.2,158,0.5,195,1.1,199,2.0,196,2.9,199,3.8,197,4.6,196,5.6,198,6.5,195,7.4,196,
18.5,135,18.7,152,19.0,117,19.2,171,19.4,143,19.7,110,20.0,162,20.2,126,20.5,188,20.8,138,21.0,157,21.3,109,21.6,143,21.9,164,22.2,124,22.5,150,22.9,113,23.3,138,23.7,153,24.1,119,24.5,102,25.2,135,25.9,120,19.3,185,21.9,180,
0.2,101,0.5,124,0.7,156,0.9,186,1.1,141,1.3,108,1.6,172,1.8,128,2.0,153,2.3,191,2.5,117,2.7,137,2.9,176,3.2,106,3.4,160,3.6,129,3.8,195,4.1,148,4.3,112,4.5,172,4.7,134,5.0,184,5.2,101,5.4,157,5.6,125,5.9,195,6.1,141,6.3,170,6.5,112,6.8,135,7.0,177,7.2,152,7.4,124,7.7,188,7.9,101,8.1,167,8.3,137,8.6,113,8.8,193,9.0,149,9.3,127,9.5,170,9.7,103,9.9,142,10.2,185,10.4,118,10.6,162,10.8,131,11.1,104,11.3,151,11.5,175,11.8,124,12.0,193,12.2,142,12.5,112,12.7,163,12.9,131,13.2,183,13.4,101,13.6,147,13.8,168,14.1,118,14.3,137,14.5,187,14.7,108,15.0,155,15.2,129,15.4,172,15.7,106,15.9,149,16.1,183,16.4,122,16.6,139,16.9,167,17.1,109,17.4,152,17.6,130,17.9,182,18.1,114,
0.3,146,0.6,118,0.8,169,1.0,192,1.3,135,1.5,103,1.8,181,2.1,145,2.4,164,2.7,120,3.0,196,3.3,142,3.6,185,3.9,113,4.2,153,4.5,131,4.8,176,5.1,110,5.4,143,5.7,186,6.0,161,6.3,126,6.6,175,6.9,102,7.2,191,7.5,139,7.8,160,8.1,127,8.4,104,8.7,182,9.0,120,9.3,162,9.6,138,9.9,193,10.2,151,10.5,128,10.8,187,11.1,143,11.4,114,11.7,166,12.0,122,12.3,186,12.6,157,12.9,101,13.2,141,13.5,178,13.8,123,14.1,162,14.4,146,14.7,180,15.0,114,15.3,142,15.6,192,15.9,131,16.2,105,16.5,162,16.8,145,17.1,126,17.4,169,17.7,106,18.0,146
];
const D_MID = [
0.4,46,1.1,52,1.8,43,2.5,49,3.2,55,3.9,44,4.6,51,5.3,47,6.0,54,6.7,42,7.4,49,8.1,53,8.8,45,9.5,50,10.2,41,10.9,48,11.6,55,12.3,44,13.0,51,13.7,46,14.4,53,15.1,42,15.8,49,16.5,55,17.2,45,17.9,51,18.6,43,19.3,48,20.0,54,20.7,46,21.4,52,22.1,41,23.0,50,24.0,44,25.0,53,
0.3,62,1.0,58,1.7,67,2.4,60,3.1,69,3.8,57,4.5,64,5.2,70,5.9,59,6.6,66,7.3,61,8.0,68,8.7,56,9.4,63,10.1,70,10.8,58,11.5,65,12.2,60,12.9,67,13.6,57,14.3,64,15.0,69,15.7,59,16.4,66,17.1,61,17.8,68,18.5,56,19.2,63,19.9,70,20.6,58,21.3,65,22.0,60,22.9,67,23.8,57,24.8,63,
0.5,73,1.2,80,1.9,76,2.6,83,3.3,71,4.0,78,4.7,84,5.4,74,6.1,81,6.8,72,7.5,79,8.2,85,8.9,75,9.6,82,10.3,71,11.0,77,11.7,84,12.4,73,13.1,80,13.8,76,14.5,83,15.2,71,15.9,78,16.6,84,17.3,74,18.0,81,18.7,72,19.4,79,20.1,85,20.8,75,21.5,82,22.3,73,23.2,80,24.1,76,25.0,84,
0.3,88,1.0,95,1.7,91,2.4,98,3.1,86,3.8,93,4.5,99,5.2,89,5.9,96,6.6,87,7.3,94,8.0,100,8.7,90,9.4,97,10.1,86,10.8,92,11.5,99,12.2,88,12.9,95,13.6,91,14.3,98,15.0,86,15.7,93,16.4,99,17.1,89,17.8,96,18.5,87,19.2,94,19.9,100,20.6,90,21.3,97,22.1,88,23.0,95,23.9,91,24.8,98,
0.8,42,2.0,71,3.5,62,5.0,92,6.4,48,7.8,74,9.2,58,10.6,89,12.0,52,13.4,70,14.8,95,16.2,50,17.6,77,19.0,60,20.4,92,21.8,70,23.4,55,25.5,78,26.0,92,26.4,60,25.8,45,
25.4,65,26.1,82,26.6,48,27.2,72,27.7,95,28.1,58,28.6,85,29.0,105,29.4,68,29.8,120,30.2,88,27.5,112,28.3,128,28.9,140,29.6,150,27.9,172,26.8,180,26.0,195,28.4,190,29.9,162
];
const D_MID_FILL = [
0.2,53,0.3,77,0.5,95,0.7,64,1.0,44,1.3,88,1.6,70,2.0,57,2.3,92,2.7,78,3.0,47,3.4,63,3.7,100,4.1,85,4.4,57,4.8,71,5.1,40,5.5,97,5.8,79,6.2,62,6.5,90,6.9,52,7.2,75,7.6,44,7.9,93,8.3,61,8.6,81,9.0,47,9.3,72,9.7,90,10.0,58,10.4,98,10.7,79,11.1,45,11.4,66,11.8,91,12.1,76,12.5,56,12.8,100,13.2,42,13.5,86,13.9,63,14.2,75,14.6,48,14.9,90,15.3,61,15.6,80,16.0,44,16.3,94,16.7,70,17.0,55,17.4,86,17.7,42,18.1,75,18.4,98,18.8,62,19.1,83,19.5,52,19.8,73,20.2,96,20.5,67,20.9,44,21.2,88,21.6,57,22.0,79,22.4,96,22.8,47,23.3,72,23.7,87,24.2,58,24.7,40,25.2,88,
0.4,84,1.5,60,2.8,96,3.6,50,4.9,88,6.0,66,7.0,98,8.4,72,9.8,53,10.9,84,12.3,66,13.7,96,15.0,51,16.1,73,17.3,95,18.6,52,19.9,80,21.0,64,22.5,86,0.6,69,1.9,84,3.1,41,4.3,94,5.6,45,6.8,92,8.0,57,9.1,80,10.5,44,11.8,60,13.0,89,14.4,58,15.8,97,17.0,68,18.2,90,19.5,42,21.0,75,23.6,66
];
const D_BAND = [
0.3,5,0.7,9,1.1,3,1.5,7,1.9,11,2.3,4,2.7,8,3.1,12,3.5,6,3.9,10,4.3,3,4.7,7,5.1,11,5.5,5,5.9,9,6.3,2,6.7,6,7.1,10,7.5,4,7.9,8,8.3,12,8.7,5,9.1,9,9.5,3,9.9,7,10.3,11,10.7,4,11.1,8,11.5,12,11.9,6,12.3,10,12.7,3,13.1,7,13.5,11,13.9,5,14.3,9,14.7,2,15.1,6,15.5,10,15.9,4,16.3,8,16.7,12,17.1,5,17.5,9,17.9,3,18.3,7,18.7,11,19.1,4,19.5,8,19.9,12,20.3,6,20.7,10,21.1,3,21.5,7,21.9,11,22.3,5,22.8,9,23.3,4,23.8,8,24.3,11,24.8,6,25.3,10,25.9,5,26.5,8,27.1,11,
0.4,15,0.8,19,1.2,13,1.6,17,2.0,21,2.4,14,2.8,18,3.2,22,3.6,16,4.0,20,4.4,13,4.8,17,5.2,21,5.6,15,6.0,19,6.4,12,6.8,16,7.2,20,7.6,14,8.0,18,8.4,22,8.8,15,9.2,19,9.6,13,10.0,17,10.4,21,10.8,14,11.2,18,11.6,22,12.0,16,12.4,20,12.8,13,13.2,17,13.6,21,14.0,15,14.4,19,14.8,12,15.2,16,15.6,20,16.0,14,16.4,18,16.8,22,17.2,15,17.6,19,18.0,13,18.4,17,18.8,21,19.2,14,19.6,18,20.0,22,20.4,16,20.8,20,21.2,13,21.6,17,22.0,21,22.4,15,22.9,19,23.4,14,23.9,18,24.4,21,24.9,16,25.4,20,26.0,15,26.6,18,27.3,14,28.0,17,
0.3,25,0.7,29,1.1,23,1.5,27,1.9,31,2.3,24,2.7,28,3.1,32,3.5,26,3.9,30,4.3,23,4.7,27,5.1,31,5.5,25,5.9,29,6.3,22,6.7,26,7.1,30,7.5,24,7.9,28,8.3,32,8.7,25,9.1,29,9.5,23,9.9,27,10.3,31,10.7,24,11.1,28,11.5,32,11.9,26,12.3,30,12.7,23,13.1,27,13.5,31,13.9,25,14.3,29,14.7,22,15.1,26,15.5,30,15.9,24,16.3,28,16.7,32,17.1,25,17.5,29,17.9,23,18.3,27,18.7,31,19.1,24,19.5,28,19.9,32,20.3,26,20.7,30,21.1,23,21.5,27,22.0,31,22.5,25,23.0,29,23.6,24,24.2,28,24.9,23,25.6,27,
0.5,35,1.0,39,1.6,33,2.2,37,2.8,40,3.4,34,4.0,38,4.6,36,5.2,40,5.8,33,6.4,37,7.0,35,7.6,39,8.2,34,8.8,38,9.4,36,10.0,40,10.6,33,11.2,37,11.8,35,12.4,39,13.0,34,13.6,38,14.2,36,14.8,40,15.4,33,16.0,37,16.6,35,17.2,39,17.8,34,18.4,38,19.0,36,19.6,40,20.2,33,20.8,37,21.6,35,22.4,39,23.2,34,
0.6,12,1.3,20,2.1,6,2.9,15,3.7,24,4.5,9,5.3,18,6.1,27,6.9,11,7.7,20,8.5,4,9.3,16,10.1,25,10.9,9,11.7,19,12.5,28,13.3,6,14.1,16,14.9,25,15.7,8,16.5,18,17.3,27,18.1,10,18.9,19,19.7,5,20.5,15,21.3,24,22.1,8,22.9,14,23.7,21,24.6,12,25.5,17,26.3,22,27.5,7,
27.6,25,28.0,10,28.4,18,28.8,6,29.2,14,29.6,22,30.0,9,30.4,16,30.8,12,31.2,5,31.6,19,32.0,10,32.4,15,32.8,8,33.2,24,33.6,13,34.0,17,34.4,10,34.8,12,35.3,20,29.0,30,30.5,28,32.0,31,27.2,35,28.6,38
];
const D_BAND_FILL = [
0.2,21,0.4,34,0.5,8,0.8,26,0.9,15,1.1,37,1.3,10,1.5,18,1.7,29,1.8,5,2.0,14,2.2,30,2.4,20,2.6,3,2.8,24,3.0,16,3.2,37,3.4,9,3.6,28,3.8,19,4.0,5,4.2,25,4.4,33,4.6,14,4.8,4,5.0,22,5.2,29,5.4,12,5.6,36,5.8,18,6.0,6,6.2,27,6.4,17,6.6,32,6.8,9,7.0,23,7.2,3,7.4,31,7.6,17,7.8,12,8.0,26,8.2,4,8.4,34,8.6,20,8.8,10,9.0,27,9.2,13,9.4,39,9.6,22,9.8,3,10.0,30,10.2,15,10.4,6,10.6,21,10.8,36,11.0,11,11.2,25,11.4,4,11.6,17,11.8,30,12.0,8,12.2,23,12.4,14,12.6,36,12.8,5,13.0,20,13.2,32,13.4,12,13.6,27,13.8,3,14.0,22,14.2,13,14.4,34,14.6,7,14.8,18,15.0,29,15.2,11,15.4,23,15.6,4,15.8,35,16.0,20,16.2,10,16.4,28,16.6,5,16.8,15,17.0,33,17.2,21,17.4,8,17.6,25,17.8,14,18.0,4,18.2,29,18.4,10,18.6,22,18.8,35,19.0,7,19.2,26,19.4,15,19.6,3,19.8,21,20.0,30,20.2,10,20.4,24,20.6,5,20.8,17,21.0,35,21.2,19,21.4,9,21.7,29,22.0,14,22.3,3,22.6,22,22.9,33,23.2,11,23.5,19,23.8,28,24.1,6,24.4,16,24.7,25,25.0,13,25.4,5,25.8,22,26.2,11,26.6,27,27.0,16,27.4,21,27.9,6,28.4,25,
0.3,11,0.6,31,1.0,20,1.4,4,1.8,34,2.2,10,2.6,17,3.0,28,3.4,3,3.8,34,4.2,16,4.6,26,5.0,2,5.4,31,5.8,12,6.2,19,6.6,3,7.0,14,7.4,37,7.8,23,8.2,15,8.6,30,9.0,3,9.4,20,9.8,32,10.2,9,10.6,28,11.0,16,11.4,34,11.8,22,12.2,3,12.6,17,13.0,27,13.4,9,13.8,37,14.2,25,14.6,3,15.0,20,15.4,36,15.8,14,16.2,31,16.6,23,17.0,3,17.4,17,17.8,28,18.2,14,18.6,33,19.0,19,19.4,11,19.8,36,20.2,20,20.6,28,21.0,6,21.4,33,21.8,19,22.2,27,22.6,13,23.0,6,23.4,31,23.8,14,24.3,33,24.8,19,25.3,7,25.9,30,26.4,14,
0.2,30,0.4,6,0.6,23,0.9,33,1.2,8,1.4,27,1.7,13,2.0,36,2.3,17,2.6,26,2.8,11,3.1,34,3.4,19,3.7,4,4.0,27,4.3,36,4.6,9,4.9,21,5.2,15,5.5,33,5.8,6,6.1,24,6.4,30,6.7,14,7.0,5,7.3,22,7.6,30,7.9,11,8.2,21,8.5,36,8.8,8,9.1,22,9.4,27,9.7,12,10.0,4,10.3,19,10.6,35,10.9,26,11.2,6,11.5,21,11.8,13,12.1,32,12.4,5,12.7,26,13.0,15,13.3,37,13.6,9,13.9,30,14.2,20,14.5,11,14.8,35,15.1,23,15.4,15,15.7,29,16.0,6,16.3,24,16.6,38,16.9,10,17.2,30,17.5,20,17.8,5,18.1,33,18.4,25,18.7,6,19.0,29,19.3,12,19.6,33,19.9,17,20.2,4,20.5,32,20.8,12,21.1,27,21.4,21,21.7,5,22.0,34,22.3,18,22.6,7,22.9,26,23.3,17,23.7,34,24.1,21,24.5,3,24.9,29,25.3,15,25.7,25,26.1,7,26.5,20,27.0,26
];
const D_SIDE = [
1.4,202,2.2,208,3.0,215,3.8,205,4.6,211,5.4,220,6.2,207,7.0,216,7.8,203,8.6,213,9.4,224,10.2,209,11.0,204,11.8,218,12.6,206,13.4,228,14.2,212,15.0,203,15.8,222,16.6,208,17.4,217,18.2,205,19.0,230,19.8,214,20.6,207,21.4,219,22.2,210,23.0,205,9.8,232,12.1,238,16.5,230,17.9,228,19.4,226,5.0,228,6.5,223,8.0,230,14.3,241,13.1,245,10.5,216,15.4,233,4.1,214,2.7,200,
5.6,301,14.8,298,5.7,288,8.1,288,10.5,282,12.5,282,19.8,280,3.4,272,4.5,269,5.0,269,3.2,264,8.6,262,5.6,259,25.7,263,8.4,260,1.3,250,11.9,250,13.9,249,16.2,253,17.3,255,17.6,255,19.5,257,20.1,257,23.1,247,24.0,248,25.1,243,37.4,215,31.5,220,32.3,234,28.1,232,28.2,227,28.8,222,27.0,229,25.0,221,22.3,226,9.0,235,10.2,241,11.0,241,2.3,235,0.9,232,6.9,236,1.0,213,2.0,218,3.5,222,
48.0,113,40.5,107,38.3,91,36.6,87,35.8,99,36.2,77,36.9,77,37.1,133,35.7,130,35.5,139,34.7,120,34.0,121,34.1,111,33.7,110,35.0,96,35.2,88,34.4,96,33.2,113,32.5,117,32.6,132,31.6,130,31.0,137,31.5,124,32.1,106,31.7,99,30.8,95,30.3,103,30.1,118,33.1,72,30.8,72,31.5,55,34.6,68,35.5,50,36.9,50,32.4,60,31.6,52,30.2,45,29.5,40,31.0,38,32.5,37,34.0,27,34.6,28,33.5,20,36.5,12,37.3,13,38.2,12,39.8,8,40.2,12,40.6,14,43.0,8,36.0,6,35.8,22,30.5,175,31.4,173,32.3,176,28.5,160,29.1,161,29.3,165
];

// ---------- regression lines (endpoints) ----------
const FIT_A = [[2477, 36.9], [5407, 131.8]];
const FIT_B = [[0.3, 110.9], [42.5, 47.7]];
const FIT_C = [[2820, 83.1], [5161, 97.5]];
const FIT_D = [[0.05, 90.5], [48.1, 96.2]];

// ---------- axis ticks ----------
const DEM_A_MAJOR = [3000, 4000, 5000];
const DEM_A_MINOR = [2500, 3500, 4500, 5500];
const DEM_C_MAJOR = [3000, 4000, 5000];
const DEM_C_MINOR = [3500, 4500];
const SLOPE_MAJOR = [0, 20, 40];
const SLOPE_B_MINOR = [10, 30];
const SLOPE_D_MINOR = [10, 30, 50];
const WC_MAJOR = [0, 100, 200, 300];
const WC_MINOR = [50, 150, 250];
const WC_D_MINOR = [50, 150, 250, 350];

const ANNOT = [
  ["(a) Slope=0.03", "P<=0.05", "R=0.23"],
  ["(b) Slope=\u22121.50", "P<=0.05", "R=\u22120.19"],
  ["(c) Slope=0.01", "P<=0.05", "R=0.05"],
  ["(d) Slope=0.12", "P>0.05", "R=0.02"],
];
const X_NAMES = ["DEM(m)", "Slope (\u00b0)", "DEM (m)", "Slope (\u00b0)"];

function toPts(arr: number[], sx: number): number[][] {
  const out: number[][] = [];
  for (let i = 0; i + 1 < arr.length; i += 2) out.push([Math.round(arr[i] * sx * 100) / 100, arr[i + 1]]);
  return out;
}

const FONT = "'Liberation Serif', 'Times New Roman', serif";

export default function App() {
  const ref = useRef<HTMLDivElement>(null);
  useEffect(() => {
    if (!ref.current) return;
    const chart = echarts.init(ref.current, undefined, { renderer: "svg" });

    const grids = [
      { left: 145, top: 16, width: 1111, height: 820 },
      { left: 1772, top: 82, width: 1081, height: 799 },
      { left: 145, top: 1247, width: 1111, height: 821 },
      { left: 1776, top: 1249, width: 1110, height: 819 },
    ];
    const xr = [[2240, 5640], [-8, 45.8], [2630, 5348], [-3.7, 51.9]];
    const yr = [[-20, 320], [-10, 330], [-20, 310], [-10, 380]];
    const xMaj = [DEM_A_MAJOR, SLOPE_MAJOR, DEM_C_MAJOR, SLOPE_MAJOR];
    const xMin = [DEM_A_MINOR, SLOPE_B_MINOR, DEM_C_MINOR, SLOPE_D_MINOR];
    const yMaj = [WC_MAJOR, WC_MAJOR, WC_MAJOR, WC_MAJOR];
    const yMin = [WC_MINOR, WC_MINOR, WC_MINOR, WC_D_MINOR];
    const plain = (v: number) => String(v);

    const lineStyle = { color: "#000", width: 3 };
    const xAxis: any[] = [];
    const yAxis: any[] = [];
    for (let g = 0; g < 4; g++) {
      xAxis.push({
        type: "value", gridIndex: g, position: "bottom", min: xr[g][0], max: xr[g][1],
        axisLine: { show: true, onZero: false, lineStyle },
        axisTick: { show: true, customValues: xMaj[g], length: 17, lineStyle },
        axisLabel: { customValues: xMaj[g], formatter: plain, fontFamily: FONT, fontSize: 34, color: "#000", margin: 30 },
        splitLine: { show: false },
      });
      xAxis.push({
        type: "value", gridIndex: g, position: "bottom", min: xr[g][0], max: xr[g][1],
        axisLine: { show: false, onZero: false },
        axisTick: { show: true, customValues: xMin[g], length: 9, lineStyle },
        axisLabel: { show: false },
        splitLine: { show: false },
      });
      yAxis.push({
        type: "value", gridIndex: g, position: "left", min: yr[g][0], max: yr[g][1],
        axisLine: { show: true, onZero: false, lineStyle },
        axisTick: { show: true, customValues: yMaj[g], length: 17, lineStyle },
        axisLabel: { customValues: yMaj[g], formatter: plain, fontFamily: FONT, fontSize: 34, color: "#000", margin: 28 },
        splitLine: { show: false },
      });
      yAxis.push({
        type: "value", gridIndex: g, position: "left", min: yr[g][0], max: yr[g][1],
        axisLine: { show: false, onZero: false },
        axisTick: { show: true, customValues: yMin[g], length: 9, lineStyle },
        axisLabel: { show: false },
        splitLine: { show: false },
      });
    }

    const pointColor = {
      type: "radial", x: 0.38, y: 0.34, r: 0.66,
      colorStops: [
        { offset: 0, color: "#ffffff" },
        { offset: 0.2, color: "#ffbde2" },
        { offset: 0.5, color: "#ff86cb" },
        { offset: 1, color: "#f070bb" },
      ],
    };

    const scatterData = [
      [...toPts(A_BAND, 10), ...toPts(A_BAND_FILL, 10), ...toPts(A_CLOUD, 10), ...toPts(A_CLOUD_FILL, 10), ...toPts(A_TOP, 10)],
      [...toPts(B_BAND, 1), ...toPts(B_BAND_FILL, 1), ...toPts(B_CLOUD, 1), ...toPts(B_CLOUD_FILL, 1), ...toPts(B_SIDE, 1)],
      [...toPts(C_BAND, 10), ...toPts(C_BAND_FILL, 10), ...toPts(C_WEST, 10), ...toPts(C_WEST_FILL, 10), ...toPts(C_EAST, 10), ...toPts(C_EAST_FILL, 10), ...toPts(C_TOP, 10)],
      [...toPts(D_BAND, 1), ...toPts(D_BAND_FILL, 1), ...toPts(D_MID, 1), ...toPts(D_MID_FILL, 1), ...toPts(D_BLOCK, 1), ...toPts(D_BLOCK_FILL, 1), ...toPts(D_SIDE, 1)],
    ];
    const fits = [FIT_A, FIT_B, FIT_C, FIT_D];
    const sizes = [11, 11, 12, 12];

    const series: any[] = [];
    for (let g = 0; g < 4; g++) {
      series.push({
        type: "scatter", xAxisIndex: 2 * g, yAxisIndex: 2 * g, data: scatterData[g],
        symbol: "circle", symbolSize: sizes[g], itemStyle: { color: pointColor, opacity: 1 },
        progressive: 0, large: false, silent: true, z: 2,
      });
      series.push({
        type: "line", xAxisIndex: 2 * g, yAxisIndex: 2 * g, data: fits[g],
        symbol: "none", lineStyle: { color: "#787878", width: 3 }, silent: true, z: 3,
      });
    }

    const annPos = [
      { x1: 205, x2: 262, ys: [99, 150, 204] },
      { x1: 1830, x2: 1894, ys: [166, 217, 270] },
      { x1: 205, x2: 262, ys: [1323, 1375, 1429] },
      { x1: 1832, x2: 1888, ys: [1323, 1375, 1429] },
    ];
    const xNamePos = [[700, 936], [2312, 983], [701, 2171], [2331, 2171]];
    const yNamePos = [[35, 427], [1665, 482], [35, 1657], [1665, 1657]];

    const graphic: any[] = [];
    for (let g = 0; g < 4; g++) {
      ANNOT[g].forEach((t, i) => {
        graphic.push({
          type: "text", x: i === 0 ? annPos[g].x1 : annPos[g].x2, y: annPos[g].ys[i], silent: true, z: 10,
          style: { text: t, fill: "#000", fontSize: 42, fontFamily: FONT, textAlign: "left", textVerticalAlign: "middle", align: "left", verticalAlign: "middle" },
        });
      });
      graphic.push({
        type: "text", x: xNamePos[g][0], y: xNamePos[g][1], silent: true,
        style: { text: X_NAMES[g], fill: "#000", fontSize: 43, fontFamily: FONT, textAlign: "center", textVerticalAlign: "middle", align: "center", verticalAlign: "middle" },
      });
      graphic.push({
        type: "text", x: yNamePos[g][0], y: yNamePos[g][1], rotation: Math.PI / 2, silent: true,
        style: { text: "WC (mm)", fill: "#000", fontSize: 42, fontWeight: "bold", fontFamily: FONT, textAlign: "center", textVerticalAlign: "middle", align: "center", verticalAlign: "middle" },
      });
    }

    chart.setOption({
      animation: false,
      backgroundColor: "#ffffff",
      grid: grids.map((g) => ({ ...g, containLabel: false })),
      xAxis,
      yAxis,
      series,
      graphic,
    });
    return () => chart.dispose();
  }, []);

  return <div ref={ref} style={{ position: "absolute", left: 0, top: 0, width: 2913, height: 2218, background: "#fff" }} />;
}
